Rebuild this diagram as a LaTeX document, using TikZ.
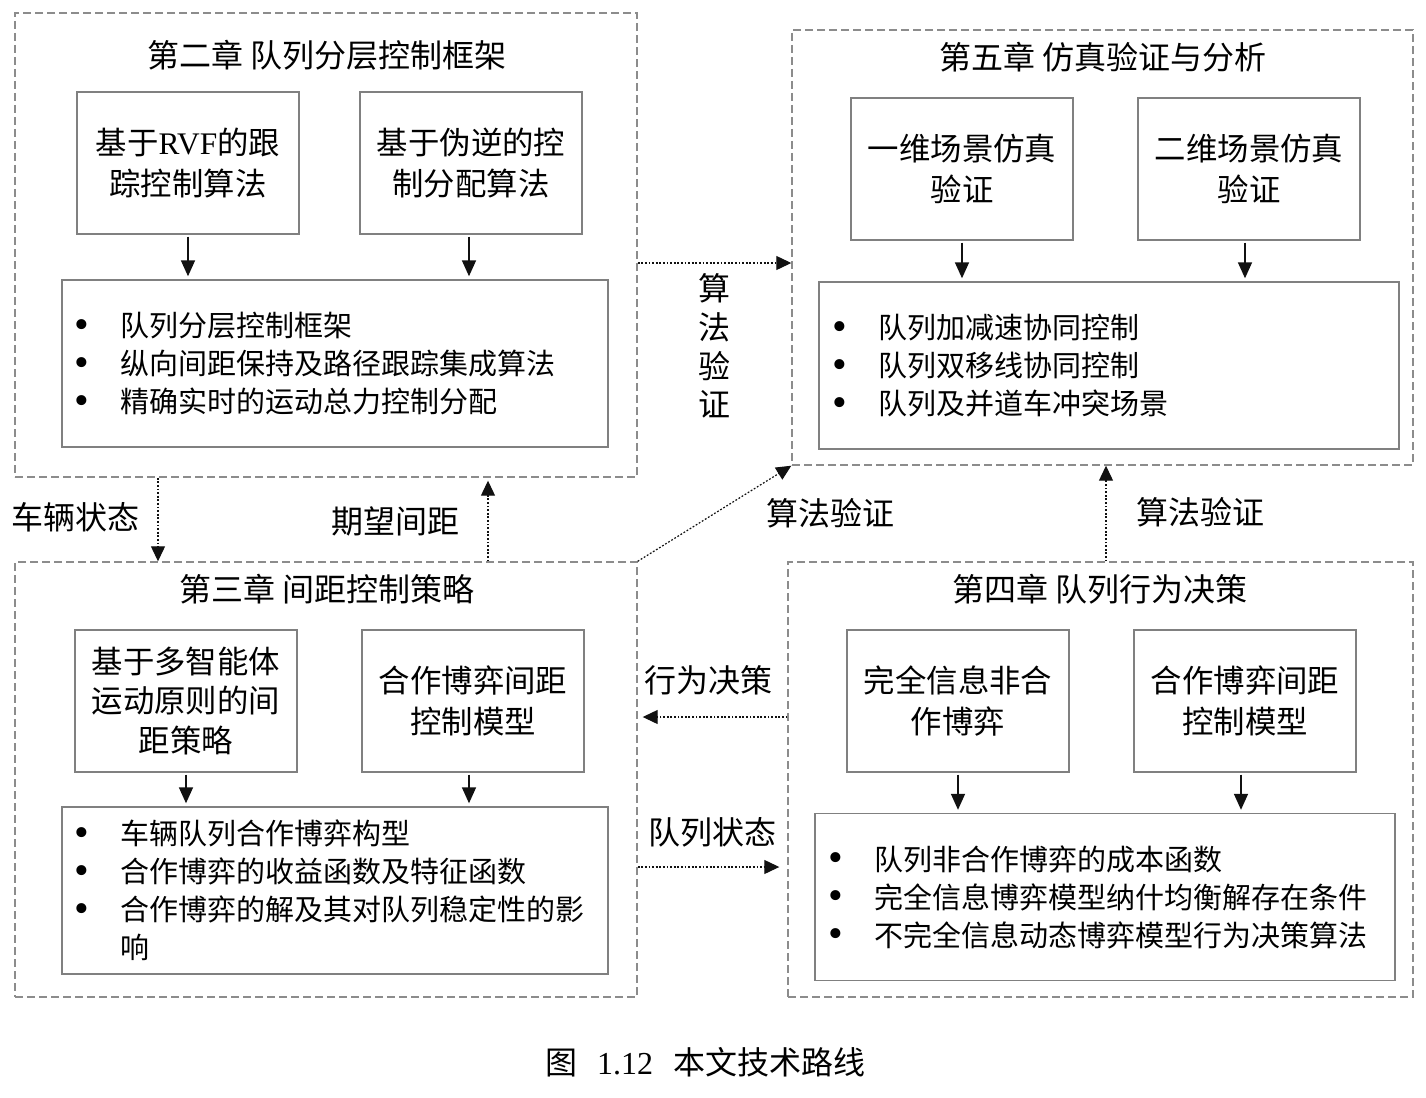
\documentclass[tikz,border=0pt]{standalone}
\usepackage{fontspec}
\setmainfont{Liberation Serif}
\newfontfamily\cjk{Noto Sans CJK SC}
\usetikzlibrary{arrows.meta,calc}
\definecolor{ink}  {HTML}{111111}
\definecolor{frame}{HTML}{8C8C8C}
\definecolor{edge} {HTML}{808080}
\newcommand{\itm}{\makebox[23pt][l]{\smash{\raisebox{-0.8pt}{\rmfamily\fontsize{21}{19}\selectfont\textbullet}}}}
\newcommand{\cont}{\makebox[23pt][l]{}}

\begin{document}
\begin{tikzpicture}[x=0.5pt, y=-0.5pt,
  font=\cjk\fontsize{15.7}{20.5}\selectfont,
  grp/.style={draw=frame, dash pattern=on 4pt off 2pt, line width=0.7pt, inner sep=0pt},
  box/.style={draw=edge, line width=0.7pt, minimum width=111pt, minimum height=71pt,
              align=center, inner sep=0pt},
  lst/.style={draw=edge, line width=0.7pt, minimum height=83.5pt, inner xsep=6.5pt,
              align=left, font=\cjk\fontsize{14.5}{19}\selectfont},
  ttl/.style={font=\cjk\fontsize{16}{18}\selectfont},
  lbl/.style={font=\cjk\fontsize{16}{19.4}\selectfont, align=center},
  flow/.style={draw=ink, line width=0.8pt, -{Triangle[length=8pt,width=7pt]},
               shorten <=1pt, shorten >=1.5pt},
  link/.style={draw=ink, line width=0.6pt, dash pattern=on 0.9pt off 0.9pt,
               -{Triangle[length=7.5pt,width=7pt]}}
]
\useasboundingbox (0,0) rectangle (1426,1098);

% chapter frames
\node[grp, minimum width=311pt, minimum height=232pt] (ch2) at (326,245) {};
\node[grp, minimum width=310.5pt, minimum height=217.5pt] (ch5) at (1102.5,247.5) {};
\node[grp, minimum width=311pt, minimum height=217.5pt] (ch3) at (326,779.5) {};
\node[grp, minimum width=312.5pt, minimum height=217.5pt] (ch4) at (1100.5,779.5) {};

\node[ttl] (t2) at (327,55) {第二章 队列分层控制框架};
\node[ttl] (t5) at (1103,57) {第五章 仿真验证与分析};
\node[ttl] (t3) at (327,589) {第三章 间距控制策略};
\node[ttl] (t4) at (1100,589) {第四章 队列行为决策};

% chapter 2
\node[box] (rvf) at (188,163) {基于{\rmfamily RVF}的跟\\踪控制算法};
\node[box] (inv) at (471,163) {基于伪逆的控\\制分配算法};
\node[lst, minimum width=273pt, text width=260pt] (l2) at (335,363.5)
  {\itm 队列分层控制框架\\\itm 纵向间距保持及路径跟踪集成算法\\\itm 精确实时的运动总力控制分配};
\draw[flow] (rvf.south) -- (rvf.south |- l2.north);
\draw[flow] ([xshift=-1pt]inv.south) -- ([xshift=-1pt]inv.south |- l2.north);

% chapter 5
\node[box] (one) at (962,169) {一维场景仿真\\验证};
\node[box] (two) at (1249,169) {二维场景仿真\\验证};
\node[lst, minimum width=290pt, text width=277pt] (l5) at (1109,365.5)
  {\itm 队列加减速协同控制\\\itm 队列双移线协同控制\\\itm 队列及并道车冲突场景};
\draw[flow] (one.south) -- (one.south |- l5.north);
\draw[flow] ([xshift=-2pt]two.south) -- ([xshift=-2pt]two.south |- l5.north);

% chapter 3
\node[box, font=\cjk\fontsize{15.7}{19.7}\selectfont] (mas) at (186,701) {基于多智能体\\运动原则的间\\距策略};
\node[box] (cgm) at (473,701) {合作博弈间距\\控制模型};
\node[lst, minimum width=273pt, text width=260pt] (l3) at (335,890.5)
  {\itm 车辆队列合作博弈构型\\\itm 合作博弈的收益函数及特征函数\\\itm 合作博弈的解及其对队列稳定性的影\\\cont 响};
\draw[flow] (mas.south) -- (mas.south |- l3.north);
\draw[flow] ([xshift=-2pt]cgm.south) -- ([xshift=-2pt]cgm.south |- l3.north);

% chapter 4
\node[box] (ncg) at (958,701) {完全信息非合\\作博弈};
\node[box] (cgd) at (1245,701) {合作博弈间距\\控制模型};
\node[lst, minimum width=290pt, text width=277pt] (l4) at (1105,897)
  {\itm 队列非合作博弈的成本函数\\\itm 完全信息博弈模型纳什均衡解存在条件\\\itm 不完全信息动态博弈模型行为决策算法};
\draw[flow] (ncg.south) -- (ncg.south |- l4.north);
\draw[flow] ([xshift=-2pt]cgd.south) -- ([xshift=-2pt]cgd.south |- l4.north);

% links between chapters
\draw[link] (ch2.east |- 0,263) -- (ch5.west |- 0,263);
\node[lbl] (v1) at (714,346) {算\\法\\验\\证};
\draw[link] (ch3.north east) -- (ch5.south west);
\node[lbl] (v2) at (830,513) {算法验证};
\draw[link] (ch4.north -| 1106,0) -- (ch5.south -| 1106,0);
\node[lbl] (v3) at (1200,512) {算法验证};
\draw[link] (ch2.south -| 158,0) -- (ch3.north -| 158,0);
\node[lbl] (s1) at (75,517) {车辆状态};
\draw[link, shorten >=1.5pt] (ch3.north -| 488,0) -- (ch2.south -| 488,0);
\node[lbl] (s2) at (395,521) {期望间距};
\draw[link, shorten >=2.5pt] (ch4.west |- 0,717) -- (ch3.east |- 0,717);
\node[lbl] (d1) at (708,680) {行为决策};
\draw[link, shorten >=4pt] (ch3.east |- 0,867) -- (ch4.west |- 0,867);
\node[lbl] (q1) at (712,832) {队列状态};

\node[font=\rmfamily\fontsize{16}{18}\selectfont] (cap) at (705,1062)
  {{\cjk 图}\hspace{10pt}1.12\hspace{10pt}{\cjk 本文技术路线}};
\end{tikzpicture}
\end{document}
